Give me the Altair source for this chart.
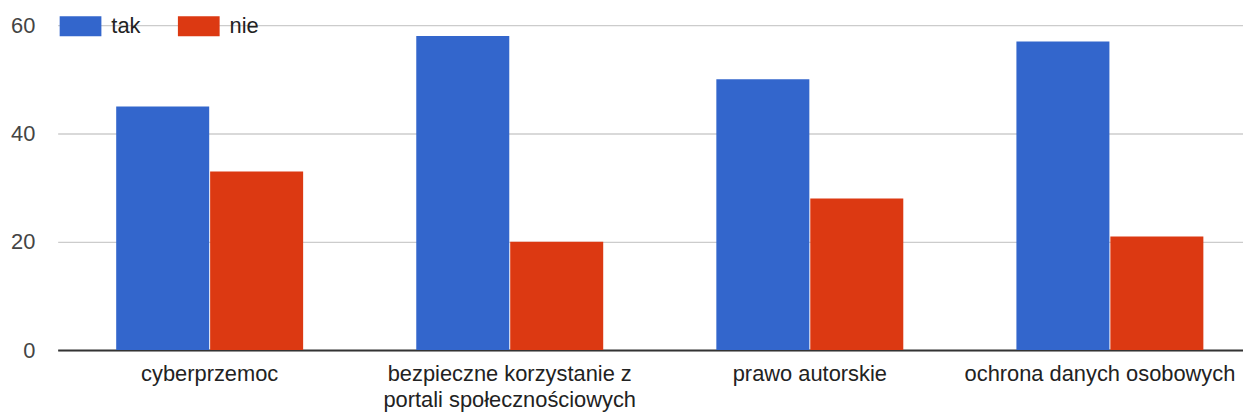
import altair as alt
import pandas as pd

categories = ["cyberprzemoc", "bezpieczne korzystanie z portali społecznościowych", "prawo autorskie", "ochrona danych osobowych"]
wrapped = {"bezpieczne korzystanie z portali społecznościowych": ["bezpieczne korzystanie z", "portali społecznościowych"]}
series = ["tak", "nie"]
tak = [45, 58, 50, 57]
nie = [33, 20, 28, 21]
colors = ["#3366cc", "#dc3912"]
y_ticks = [0, 20, 40, 60]

rows = []
for i, c in enumerate(categories):
    rows.append({"kategoria": c, "odp": "tak", "wartosc": tak[i]})
    rows.append({"kategoria": c, "odp": "nie", "wartosc": nie[i]})
df = pd.DataFrame(rows)

expr = "datum.label"
for k, v in wrapped.items():
    expr = "datum.label == '%s' ? ['%s', '%s'] : %s" % (k, v[0], v[1], expr)

FONT = "Liberation Sans"

chart = alt.Chart(df).mark_bar().encode(
    x=alt.X("kategoria:N", sort=categories, title=None,
            scale=alt.Scale(paddingInner=0.377, paddingOuter=0.195, range=[0, 1212]),
            axis=alt.Axis(labelAngle=0, labelExpr=expr, labelFontSize=22, labelFont=FONT,
                          labelColor="#222222", labelPadding=14, labelLineHeight=26,
                          labelOffset={"expr": "datum.value == '%s' ? -10 : 0" % categories[-1]},
                          ticks=False, domainColor="#333333", domainWidth=2,
                          labelLimit=400, grid=False)),
    xOffset=alt.XOffset("odp:N", sort=series, scale=alt.Scale(paddingInner=0.01)),
    y=alt.Y("wartosc:Q", title=None,
            scale=alt.Scale(domain=[0, 60], nice=False),
            axis=alt.Axis(values=y_ticks, labelFontSize=22, labelFont=FONT, labelColor="#444444",
                          labelPadding=23, ticks=False, domain=False, gridColor="#cccccc",
                          gridWidth=1.3)),
    color=alt.Color("odp:N", sort=series,
                    scale=alt.Scale(domain=series, range=colors),
                    legend=alt.Legend(title=None, orient="none", legendX=2, legendY=-20,
                                      direction="horizontal", symbolType="M-1,-0.4762H1V0.4762H-1Z",
                                      symbolSize=1764, symbolStrokeWidth=0, symbolOpacity=1,
                                      labelFontSize=22, labelFont=FONT, labelColor="#222222",
                                      labelOffset=10, columnPadding=37, padding=0)),
).properties(
    width=1193, height=327,
    padding={"left": 50, "top": 16, "right": 0, "bottom": 66},
    autosize="none",
).configure_view(stroke=None)

chart.save("out.html", embed_options={"renderer": "svg", "actions": False})
